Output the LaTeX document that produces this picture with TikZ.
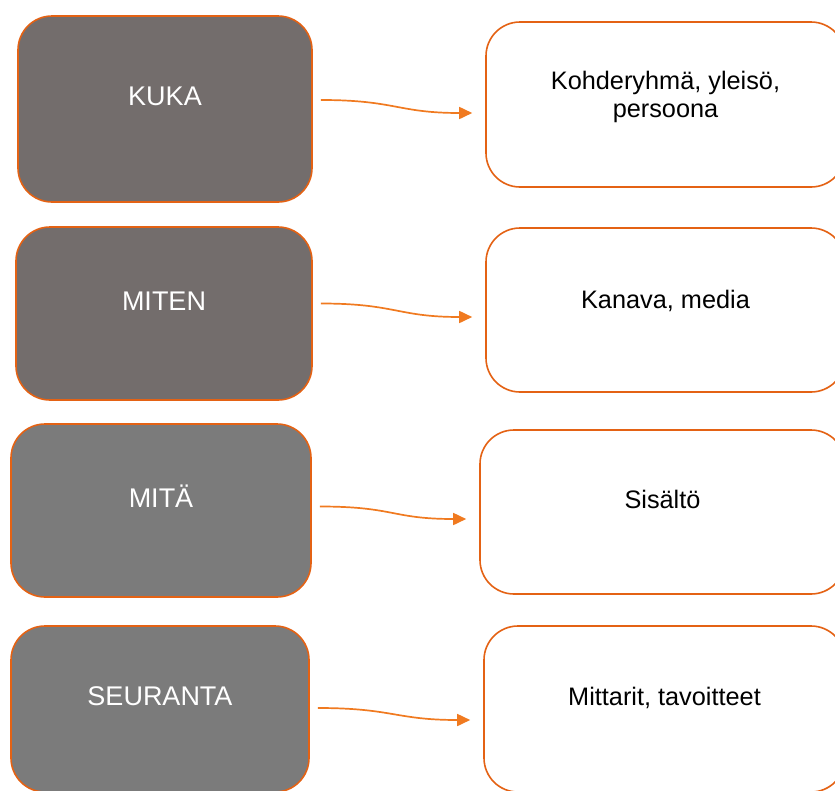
\documentclass[tikz,border=0pt]{standalone}
\usepackage{fontspec}
\setmainfont{Liberation Sans}
\usetikzlibrary{arrows.meta}
\definecolor{rim}{RGB}{228,98,20}
\definecolor{wire}{RGB}{240,122,32}
\definecolor{slate}{RGB}{115,109,108}
\definecolor{ash}{RGB}{123,123,123}
\begin{document}
\begin{tikzpicture}[x=1pt, y=-1pt,
  box/.style={draw=rim, line width=1.6pt, rounded corners=34pt, inner sep=0pt},
  answer/.style={box, fill=white},
  word/.style={anchor=base, text=white, font=\fontsize{27}{31}\selectfont},
  note/.style={anchor=base, align=center, font=\fontsize{25.3}{28}\selectfont},
  link/.style={wire, line width=1.7pt, -{Triangle[length=13pt,width=12pt]}}]
\useasboundingbox (0,0) rectangle (835,790);

% left column
\node[box, fill=slate, minimum width=294pt, minimum height=186pt] (kuka) at (165,109) {};
\node[box, fill=slate, minimum width=296pt, minimum height=173pt] (miten) at (164,313.5) {};
\node[box, fill=ash, minimum width=300pt, minimum height=173pt] (mita) at (161,510.5) {};
\node[box, fill=ash, minimum width=298pt, minimum height=166pt] (seuranta) at (160,709) {};

\node[word] (kukatxt) at ([yshift=3.5pt]kuka.center) {KUKA};
\node[word] (mitentxt) at ([yshift=3.5pt]miten.center) {MITEN};
\node[word] (mitatxt) at ([yshift=3.5pt]mita.center) {MITÄ};
\node[word] (seurantatxt) at ([yshift=3.5pt]seuranta.center) {SEURANTA};

% right column
\node[answer, minimum width=359pt, minimum height=165pt] (ryhma) at (665.5,104.5) {};
\node[answer, minimum width=359pt, minimum height=164pt] (kanava) at (665.5,310) {};
\node[answer, minimum width=365pt, minimum height=164pt] (sisalto) at (662.5,512) {};
\node[answer, minimum width=361pt, minimum height=166pt] (mittarit) at (664.5,709) {};

\node[note] (ryhmatxt) at ([yshift=-12.5pt]ryhma.center) {Kohderyhmä, yleisö,\\persoona};
\node[note] (kanavatxt) at ([yshift=2pt]kanava.center) {Kanava, media};
\node[note] (sisaltotxt) at ([yshift=4pt]sisalto.center) {Sisältö};
\node[note] (mittarittxt) at ([yshift=4pt]mittarit.center) {Mittarit, tavoitteet};

\foreach \a/\b/\s/\t in {kuka/ryhma/9/-8.5, miten/kanava/10/-7, mita/sisalto/4/-7, seuranta/mittarit/1/-11}
{
\draw[link] ([xshift=8pt,yshift=\s pt]\a.east) .. controls +(75,0) and +(-75,0) .. ([xshift=-13pt,yshift=\t pt]\b.west);
}
\end{tikzpicture}
\end{document}
